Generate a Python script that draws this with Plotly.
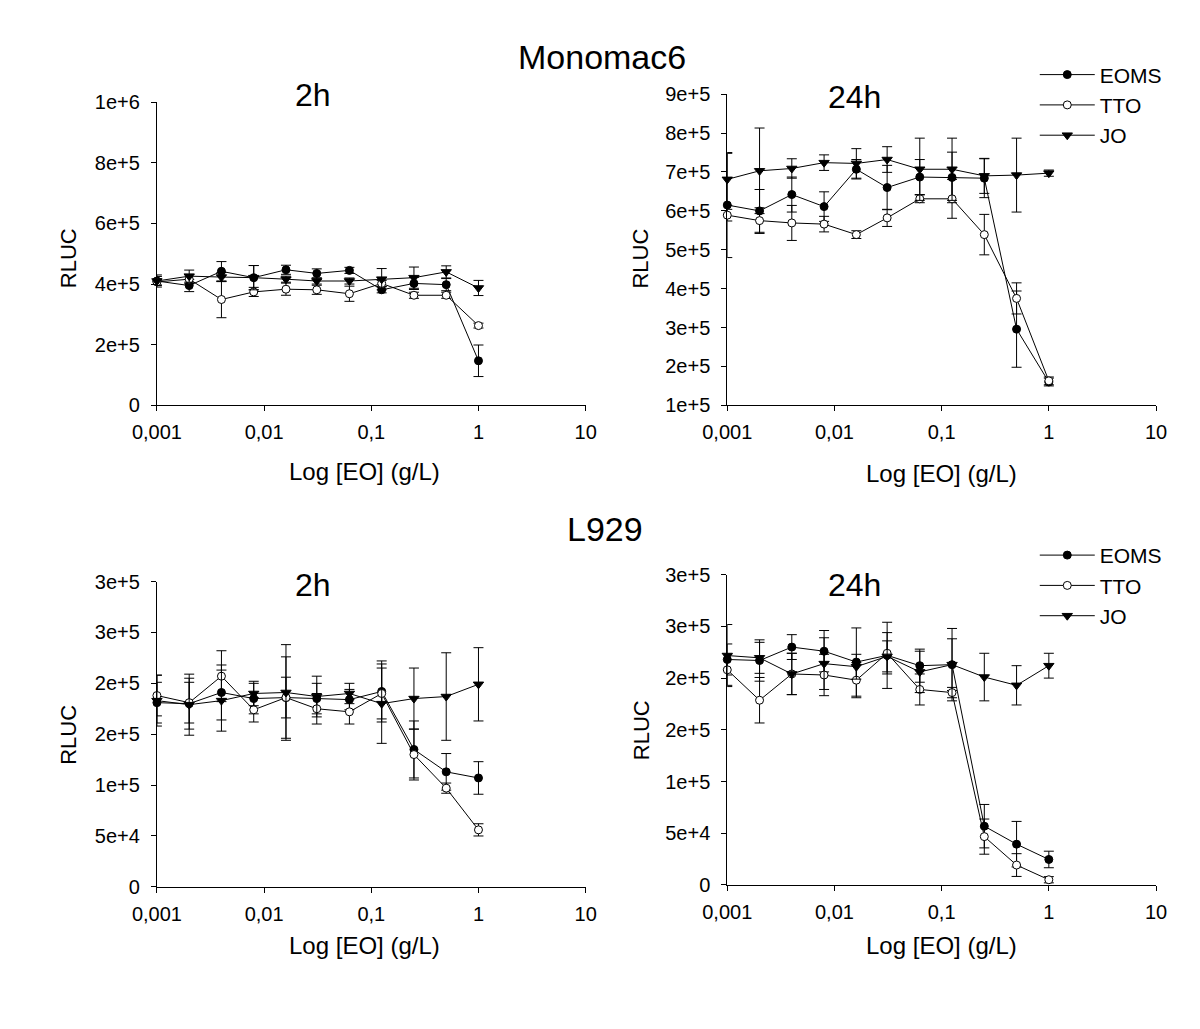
import plotly.graph_objects as go

conc = [0.001, 0.002, 0.004, 0.008, 0.016, 0.031, 0.0625, 0.125, 0.25, 0.5, 1]
series_names = ["EOMS", "TTO", "JO"]

# Monomac6 2h
m2_eoms = [410000, 395000, 442000, 421000, 447000, 435000, 445000, 381000, 402000, 398000, 147000]
m2_tto = [407000, 416000, 349000, 374000, 383000, 381000, 368000, 402000, 363000, 363000, 263000]
m2_jo = [410000, 426000, 423000, 421000, 416000, 410000, 410000, 416000, 421000, 440000, 387000]
m2_eoms_err = [20000, 20000, 32000, 40000, 15000, 15000, 10000, 10000, 20000, 20000, 52000]
m2_tto_err = [10000, 15000, 60000, 15000, 20000, 15000, 25000, 10000, 10000, 10000, 8000]
m2_jo_err = [15000, 20000, 15000, 40000, 10000, 10000, 10000, 35000, 35000, 20000, 25000]

# Monomac6 24h
m24_eoms = [615000, 600000, 642000, 611000, 707000, 660000, 687000, 686000, 684000, 296000, 160000]
m24_tto = [589000, 575000, 569000, 566000, 539000, 582000, 631000, 631000, 539000, 375000, 163000]
m24_jo = [681000, 703000, 709000, 724000, 722000, 732000, 707000, 707000, 690000, 692000, 697000]
m24_eoms_err = [135000, 55000, 45000, 38000, 25000, 57000, 45000, 65000, 50000, 98000, 10000]
m24_tto_err = [15000, 33000, 45000, 20000, 10000, 22000, 10000, 50000, 52000, 40000, 10000]
m24_jo_err = [67000, 110000, 25000, 20000, 38000, 33000, 80000, 80000, 45000, 95000, 8000]

# L929 2h
l2_eoms = [181000, 180000, 191000, 185000, 186000, 185000, 184000, 192000, 135000, 113000, 107000]
l2_tto = [188000, 181000, 207000, 174000, 186000, 175000, 172000, 190000, 130000, 97000, 56000]
l2_jo = [183000, 179000, 183000, 190000, 191000, 187000, 190000, 180000, 185000, 187000, 199000]
l2_eoms_err = [20000, 25000, 27000, 15000, 40000, 15000, 10000, 30000, 28000, 18000, 16000]
l2_tto_err = [20000, 20000, 25000, 12000, 20000, 15000, 12000, 25000, 25000, 5000, 6000]
l2_jo_err = [25000, 30000, 30000, 12000, 47000, 20000, 10000, 39000, 30000, 43000, 36000]

# L929 24h
l24_eoms = [218000, 217000, 230000, 226000, 215500, 222000, 212000, 213000, 56800, 39400, 24600]
l24_tto = [208000, 178600, 204000, 203000, 198000, 224000, 189000, 186000, 46700, 19200, 5000]
l24_jo = [221800, 219600, 204000, 214000, 211000, 221000, 206000, 213000, 201000, 193000, 212000]
l24_eoms_err = [15000, 20000, 12000, 20000, 33000, 32000, 16000, 25000, 21000, 22000, 8000]
l24_tto_err = [15000, 22000, 20000, 20000, 17000, 20000, 15000, 5000, 17000, 11000, 3000]
l24_jo_err = [30000, 15000, 20000, 25000, 12000, 15000, 20000, 35000, 23000, 19000, 12000]

x_tickvals = [0.001, 0.01, 0.1, 1, 10]
x_ticktext = ["0,001", "0,01", "0,1", "1", "10"]

m2_yticks = [0, 200000, 400000, 600000, 800000, 1000000]
m2_ytext = ["0", "2e+5", "4e+5", "6e+5", "8e+5", "1e+6"]
m24_yticks = [100000, 200000, 300000, 400000, 500000, 600000, 700000, 800000, 900000]
m24_ytext = ["1e+5", "2e+5", "3e+5", "4e+5", "5e+5", "6e+5", "7e+5", "8e+5", "9e+5"]
l_yticks = [0, 50000, 100000, 150000, 200000, 250000, 300000]
l_ytext = ["0", "5e+4", "1e+5", "2e+5", "2e+5", "3e+5", "3e+5"]

W, H = 1200, 1029
FONT = "Liberation Sans, Arial, sans-serif"

def px_x(p):
    return p / W

def px_y(p):
    return 1 - p / H

panels = [
    ((m2_eoms, m2_tto, m2_jo), (m2_eoms_err, m2_tto_err, m2_jo_err), (136, 578), (403, 93), [0, 1000000], m2_yticks, m2_ytext, None),
    ((m24_eoms, m24_tto, m24_jo), (m24_eoms_err, m24_tto_err, m24_jo_err), (724, 1166), (403, 85), [100000, 900000], m24_yticks, m24_ytext, "legend"),
    ((l2_eoms, l2_tto, l2_jo), (l2_eoms_err, l2_tto_err, l2_jo_err), (136, 578), (895, 583), [0, 300000], l_yticks, l_ytext, None),
    ((l24_eoms, l24_tto, l24_jo), (l24_eoms_err, l24_tto_err, l24_jo_err), (724, 1166), (893, 576), [0, 300000], l_yticks, l_ytext, "legend2"),
]

markers = [
    dict(symbol="circle", size=8, color="black", line=dict(color="black", width=1)),
    dict(symbol="circle", size=8, color="white", line=dict(color="black", width=1)),
    dict(symbol="triangle-down", size=9, color="black", line=dict(color="black", width=1)),
]

fig = go.Figure()
layout = dict(
    width=W, height=H,
    margin=dict(l=0, r=0, t=0, b=0),
    paper_bgcolor="white", plot_bgcolor="white",
    font=dict(family=FONT, color="black", size=20),
    showlegend=True,
)

for i, (data, errs, xd, yd, yr, ytv, ytt, leg) in enumerate(panels):
    n = i + 1
    xa = "x" if n == 1 else f"x{n}"
    ya = "y" if n == 1 else f"y{n}"
    for s in range(3):
        kw = dict(
            x=conc, y=data[s], name=series_names[s], xaxis=xa, yaxis=ya,
            mode="lines+markers",
            line=dict(color="black", width=1),
            marker=markers[s],
            error_y=dict(type="data", array=errs[s], visible=True, color="black", thickness=1, width=5),
            cliponaxis=False,
            showlegend=leg is not None,
        )
        if leg is not None:
            kw["legend"] = leg
        fig.add_trace(go.Scatter(**kw))
    axis_common = dict(showline=True, linecolor="black", linewidth=1, ticks="outside",
                       ticklen=5, tickcolor="black", showgrid=False, zeroline=False,
                       tickfont=dict(family=FONT, size=20, color="black"))
    layout["xaxis" if n == 1 else f"xaxis{n}"] = dict(
        type="log", range=[-3, 1], domain=[px_x(xd[0]), px_x(xd[1])],
        anchor=ya, tickvals=x_tickvals, ticktext=x_ticktext, ticklabelstandoff=4, **axis_common)
    layout["yaxis" if n == 1 else f"yaxis{n}"] = dict(
        range=yr, domain=[px_y(yd[0]), px_y(yd[1])], anchor=xa,
        tickvals=ytv, ticktext=ytt, ticklabelstandoff=7, **axis_common)

legend_style = dict(xanchor="left", yanchor="middle", bgcolor="rgba(0,0,0,0)",
                    font=dict(family=FONT, size=21, color="black"), tracegroupgap=0,
                    itemwidth=55)
layout["legend"] = dict(x=px_x(1041), y=px_y(96), **legend_style)
layout["legend2"] = dict(x=px_x(1041), y=px_y(587), **legend_style)

ann = []
def add_text(text, x, y, size, angle=0):
    ann.append(dict(text=text, x=px_x(x), y=px_y(y), xref="paper", yref="paper",
                    showarrow=False, textangle=angle, xanchor="center", yanchor="middle",
                    font=dict(family=FONT, size=size, color="black")))

add_text("Monomac6", 595, 47, 34)
add_text("L929", 598, 529, 34)
add_text("2h", 297, 86, 32)
add_text("24h", 855, 88, 32)
add_text("2h", 297, 587, 32)
add_text("24h", 855, 587, 32)
for (x, y) in [(45, 253), (635, 253), (45, 740), (635, 735)]:
    add_text("RLUC", x, y, 22, -90)
for (x, y) in [(350, 471), (945, 473), (350, 955), (945, 955)]:
    add_text("Log [EO] (g/L)", x, y, 24)
layout["annotations"] = ann

fig.update_layout(**layout)
fig.write_html("out.html", config={"displayModeBar": False},
               post_script="document.body.style.margin='0';document.body.style.overflow='hidden';")
